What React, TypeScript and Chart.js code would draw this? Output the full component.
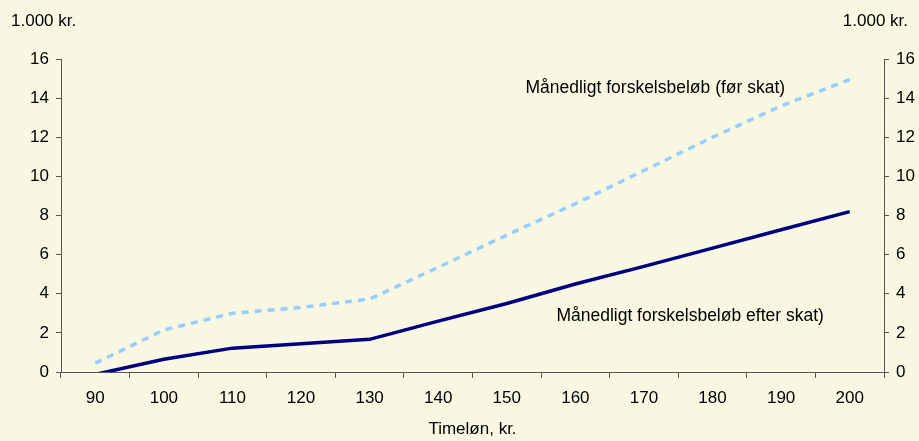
import React, { useEffect, useRef } from "react";
import { Chart, registerables } from "chart.js";

Chart.register(...registerables);

const categories = ["90", "100", "110", "120", "130", "140", "150", "160", "170", "180", "190", "200"];
const beforeTax = [0.45, 2.15, 3.0, 3.3, 3.73, 5.35, 7.0, 8.6, 10.3, 12.0, 13.6, 14.95];
const afterTax = [-0.12, 0.65, 1.22, 1.45, 1.67, 2.6, 3.5, 4.5, 5.4, 6.33, 7.27, 8.2];
const yMin = 0;
const yMax = 16;
const yStep = 2;

const unitLabel = "1.000 kr.";
const xTitle = "Timeløn, kr.";
const labelBefore = "Månedligt forskelsbeløb (før skat)";
const labelAfter = "Månedligt forskelsbeløb efter skat)";

const BG = "#F8F8E2";
const FONT = "'Liberation Sans', Arial, sans-serif";
const FS = 17;
const FS_LABEL = 17.5;
const AXIS = "#555555";

export default function App() {
  const ref = useRef<HTMLCanvasElement | null>(null);

  useEffect(() => {
    if (!ref.current) return;

    const bgPlugin = {
      id: "bg",
      beforeDraw(chart: any) {
        const { ctx, width, height } = chart;
        ctx.save();
        ctx.fillStyle = BG;
        ctx.fillRect(0, 0, width, height);
        ctx.restore();
      },
    };

    const textPlugin = {
      id: "texts",
      afterDraw(chart: any) {
        const { ctx, chartArea } = chart;
        const xs = chart.scales.x;
        const ys = chart.scales.y;
        ctx.save();
        ctx.fillStyle = "#000";
        ctx.textBaseline = "middle";
        // unit labels
        ctx.font = `${FS}px ${FONT}`;
        ctx.textAlign = "left";
        ctx.fillText(unitLabel, chartArea.left - 50, chartArea.top - 38);
        ctx.textAlign = "right";
        ctx.fillText(unitLabel, chartArea.right + 24, chartArea.top - 38);
        // series labels
        ctx.font = `${FS_LABEL}px ${FONT}`;
        ctx.textAlign = "right";
        ctx.fillText(labelBefore, xs.getPixelForValue(10) + 4, ys.getPixelForValue(14.5));
        ctx.textAlign = "left";
        ctx.fillText(labelAfter, xs.getPixelForValue(7) - 19, ys.getPixelForValue(2.85));
        ctx.restore();
      },
    };

    const yAxisCommon = {
      min: yMin,
      max: yMax,
      grid: { drawOnChartArea: false, drawTicks: true, tickLength: 5, color: AXIS },
      border: { color: AXIS, width: 1 },
      ticks: { stepSize: yStep, color: "#000", font: { family: FONT, size: FS }, padding: 7 },
    };

    const chart = new Chart(ref.current, {
      type: "line",
      data: {
        labels: categories,
        datasets: [
          {
            label: labelBefore,
            data: beforeTax,
            borderColor: "#99CCFF",
            borderWidth: 3.5,
            borderDash: [7, 6],
            pointRadius: 0,
            tension: 0,
            clip: 0,
            yAxisID: "y",
          },
          {
            label: labelAfter,
            data: afterTax,
            borderColor: "#000080",
            borderWidth: 3.5,
            pointRadius: 0,
            tension: 0,
            clip: 0,
            yAxisID: "y",
          },
        ],
      },
      options: {
        animation: false,
        responsive: false,
        maintainAspectRatio: false,
        layout: { padding: { top: 59, left: 0, right: 0, bottom: 0 } },
        plugins: { legend: { display: false }, tooltip: { enabled: false } },
        scales: {
          x: {
            type: "category",
            offset: true,
            grid: { offset: true, drawOnChartArea: false, drawTicks: true, tickLength: 6, color: AXIS },
            border: { color: AXIS, width: 1 },
            ticks: { color: "#000", font: { family: FONT, size: FS }, padding: 10, maxRotation: 0, autoSkip: false },
            title: {
              display: true,
              text: xTitle,
              color: "#000",
              font: { family: FONT, size: FS },
              padding: { top: 0, bottom: 1 },
            },
            afterFit: (s: any) => {
              s.height = 69;
            },
          },
          y: {
            ...yAxisCommon,
            position: "left",
            afterFit: (s: any) => {
              s.width = 61;
            },
          },
          y2: {
            ...yAxisCommon,
            position: "right",
            afterFit: (s: any) => {
              s.width = 35;
            },
          },
        },
      } as any,
      plugins: [bgPlugin, textPlugin],
    });

    return () => chart.destroy();
  }, []);

  return (
    <div style={{ position: "fixed", left: 0, top: 0, width: 919, height: 441, background: BG }}>
      <canvas ref={ref} width={919} height={441} style={{ display: "block" }} />
    </div>
  );
}
